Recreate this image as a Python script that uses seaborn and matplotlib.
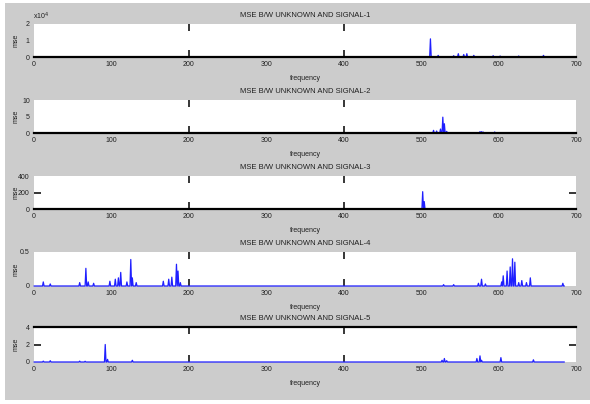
import numpy as np
import pandas as pd
import matplotlib
matplotlib.use("Agg")
import matplotlib.pyplot as plt
from matplotlib.patches import Rectangle
from matplotlib.ticker import FuncFormatter
import seaborn as sns

# frequency axis
FREQ_LAST = 685
X_TICKS = [0, 100, 200, 300, 400, 500, 600, 700]

# mean squared error between the unknown signal and each reference signal
SIG1_FREQ = [512, 522, 542, 548, 555, 559, 568, 593, 602, 626, 658]
SIG1_MSE = [11000, 1000, 800, 2000, 1500, 2000, 1000, 800, 600, 600, 1000]

SIG2_FREQ = [516, 520, 525, 528, 530, 533, 576, 578, 580, 595]
SIG2_MSE = [0.8, 0.6, 1.2, 4.8, 2.8, 0.5, 0.4, 0.4, 0.3, 0.3]

SIG3_FREQ = [502, 504]
SIG3_MSE = [210, 90]

SIG4_FREQ = [12, 21, 59, 67, 70, 77, 98, 105, 109, 112, 120, 125, 127, 132,
             167, 174, 178, 184, 186, 189,
             529, 542, 574, 578, 583, 604, 606, 611, 615, 618, 621, 626, 630,
             636, 641, 683]
SIG4_MSE = [0.06, 0.03, 0.05, 0.26, 0.06, 0.04, 0.07, 0.10, 0.12, 0.20, 0.06,
            0.39, 0.12, 0.05,
            0.07, 0.10, 0.13, 0.32, 0.22, 0.05,
            0.02, 0.02, 0.04, 0.10, 0.03, 0.06, 0.15, 0.22, 0.28, 0.40, 0.35,
            0.05, 0.08, 0.05, 0.12, 0.04]

SIG5_FREQ = [12, 21, 59, 66, 92, 95, 127, 527, 530, 533, 572, 576, 578, 603, 645]
SIG5_MSE = [0.10, 0.15, 0.10, 0.08, 2.0, 0.3, 0.2, 0.2, 0.4, 0.15, 0.4, 0.7,
            0.2, 0.5, 0.25]

SIGNALS = [
    (SIG1_FREQ, SIG1_MSE),
    (SIG2_FREQ, SIG2_MSE),
    (SIG3_FREQ, SIG3_MSE),
    (SIG4_FREQ, SIG4_MSE),
    (SIG5_FREQ, SIG5_MSE),
]
TITLES = [f"MSE B/W UNKNOWN AND SIGNAL-{i}" for i in range(1, 6)]
Y_TICKS = [[0, 10000, 20000], [0, 5, 10], [0, 200, 400], [0, 0.5], [0, 2, 4]]
Y_MARKED = [None, None, 200, None, 2]       # y tick drawn as a mark on both sides
X_MARKED = [200, 400]

sns.set_theme(style="white")
plt.rcParams["font.family"] = ["Liberation Sans", "DejaVu Sans"]

W, H = 590, 404
fig = plt.figure(figsize=(W / 100, H / 100), dpi=100, facecolor="white")
fig.patches.append(Rectangle((5 / W, 4 / H), 585 / W, 397 / H,
                             transform=fig.transFigure, facecolor="#cccccc",
                             edgecolor="none", zorder=-5))

# axes boxes in pixels: (top, bottom)
boxes = [(24, 57), (100, 133), (176, 209), (252, 286), (327, 362)]
left, right = 34, 576
line_color = "#1f1fff"
text_color = "#202020"

for i, ((top, bot), (freqs, vals)) in enumerate(zip(boxes, SIGNALS)):
    ax = fig.add_axes([left / W, 1 - bot / H, (right - left) / W, (bot - top) / H])
    ax.set_facecolor("white")

    mse = np.zeros(FREQ_LAST + 1)
    mse[np.array(freqs)] = vals
    df = pd.DataFrame({"frequency": np.arange(FREQ_LAST + 1), "mse": mse})
    sns.lineplot(data=df, x="frequency", y="mse", ax=ax, color=line_color,
                 linewidth=0.9, estimator=None, clip_on=(i < 3))

    ax.set_xlim(0, 700)
    ax.set_ylim(Y_TICKS[i][0], Y_TICKS[i][-1])
    ax.set_xticks(X_TICKS)
    ax.set_yticks(Y_TICKS[i])
    if i == 0:
        ax.yaxis.set_major_formatter(FuncFormatter(lambda v, _: f"{v / 1e4:g}"))
        ax.text(-0.002, 1.05, r"x10$^{4}$", transform=ax.transAxes,
                fontsize=5, color=text_color, ha="left", va="bottom")
    else:
        ax.yaxis.set_major_formatter(FuncFormatter(lambda v, _: f"{v:g}"))

    for s in ax.spines.values():
        s.set_visible(False)
    if i < 3:
        ax.spines["bottom"].set_visible(True)
    if i == 4:
        ax.spines["top"].set_visible(True)
    for s in ax.spines.values():
        s.set_color("black")
        s.set_linewidth(1.6)

    ax.tick_params(axis="both", direction="in", length=5, width=1.1,
                   colors="black", labelcolor=text_color, labelsize=5,
                   top=True, right=True, pad=3)
    for t, v in zip(ax.xaxis.get_major_ticks(), X_TICKS):
        on = v in X_MARKED
        t.tick1line.set_visible(on)
        t.tick2line.set_visible(on)
    for t, v in zip(ax.yaxis.get_major_ticks(), Y_TICKS[i]):
        on = (Y_MARKED[i] is not None and v == Y_MARKED[i])
        t.tick1line.set_visible(on)
        t.tick2line.set_visible(on)

    ax.set_title(TITLES[i], fontsize=5.5, color=text_color, pad=5)
    ax.set_xlabel("frequency", fontsize=5, color=text_color, labelpad=5)
    ax.set_ylabel("mse", fontsize=5, color=text_color)
    ax.yaxis.set_label_coords(-0.027, 0.5)

fig.savefig("out.png", dpi=100, facecolor=fig.get_facecolor())
